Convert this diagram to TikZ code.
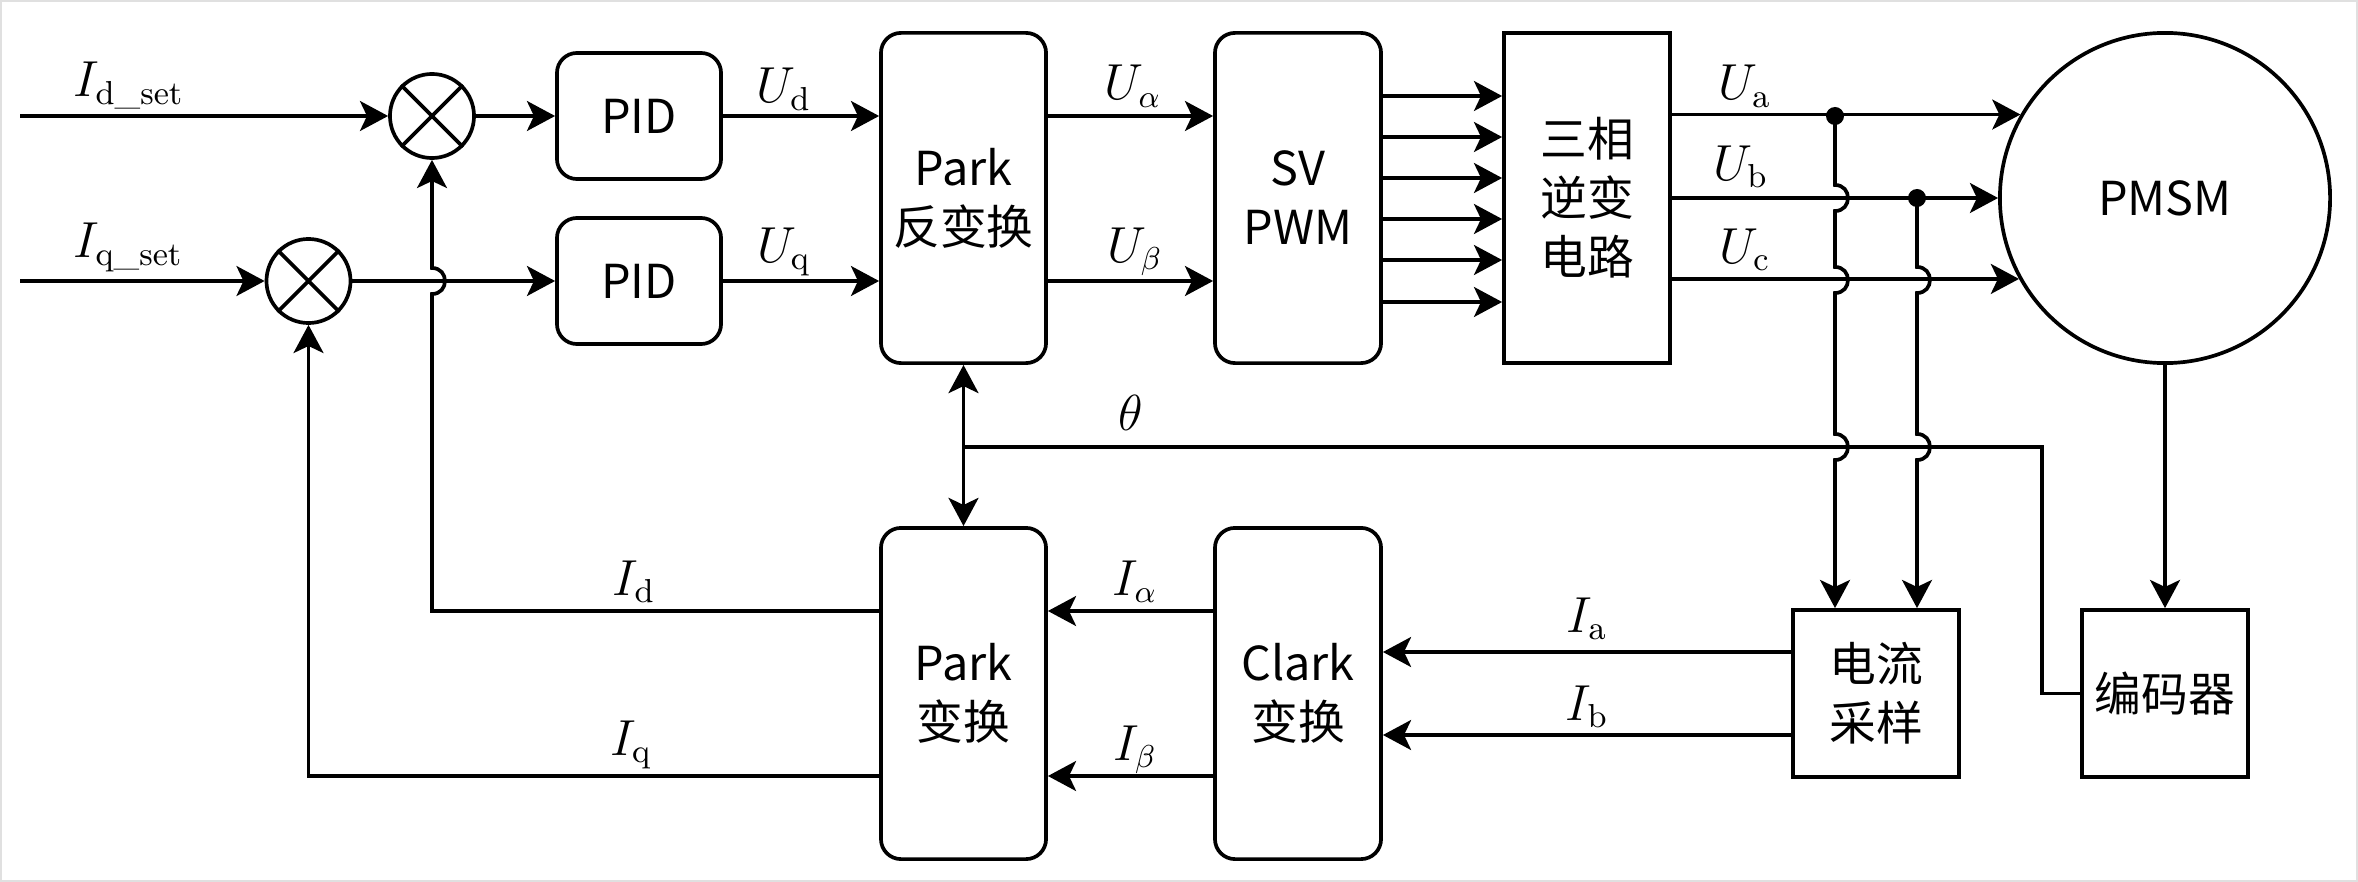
\documentclass[tikz,border=0pt]{standalone}
\usepackage{amsmath}
\usepackage{fontspec}
\newfontfamily\cjk{Noto Sans CJK SC}
\usetikzlibrary{arrows.meta,calc}
\newcommand\hopdown[2]{-- (#1,#2-13) .. controls (#1+17.3,#2-13) and (#1+17.3,#2+13) .. (#1,#2+13)}
\newcommand\hopup[2]{-- (#1,#2+13) .. controls (#1+17.3,#2+13) and (#1+17.3,#2-13) .. (#1,#2-13)}
\begin{document}
\begin{tikzpicture}[x=0.01cm,y=-0.01cm,line width=1.05pt,
  >={Stealth[length=8pt,width=8.5pt,inset=2pt]},
  every node/.style={font=\fontsize{13.5pt}{16.5pt}\selectfont},
  boxtext/.style={align=center,inner sep=0pt,font=\cjk\fontsize{13.3pt}{16.8pt}\selectfont},
  rbox/.style={draw,rounded corners=0.2cm,boxtext},
  sbox/.style={draw,boxtext},
  sumj/.style={draw,circle,minimum size=0.84cm,inner sep=0pt},
  jdot/.style={circle,fill,inner sep=0pt,minimum size=0.18cm},
  lbl/.style={inner sep=0pt,anchor=base}]
\useasboundingbox (0,0) rectangle (2358,882);
\draw[black!12,line width=0.6pt] (1,1) rectangle (2357,881);
% rows
\coordinate (r1) at (0,116);
\coordinate (r2) at (0,281);
\coordinate (rb) at (0,198);
\coordinate (rth) at (0,447);
\coordinate (rl1) at (0,611);
\coordinate (rl2) at (0,776);
\coordinate (ria) at (0,652);
\coordinate (rib) at (0,735);
\coordinate (xt) at (2042,0);
% nodes
\node[sumj] (s1) at (432,116) {};
\node[sumj] (s2) at (308.5,281) {};
\draw (s1.45) -- (s1.225) (s1.135) -- (s1.315);
\draw (s2.45) -- (s2.225) (s2.135) -- (s2.315);
\node[rbox,minimum width=1.64cm,minimum height=1.26cm] (pid1) at (639,116) {PID};
\node[rbox,minimum width=1.64cm,minimum height=1.26cm] (pid2) at (639,281) {PID};
\node[rbox,minimum width=1.65cm,minimum height=3.30cm] (ipark) at (963.5,198) {Park\\反变换};
\node[rbox,minimum width=1.66cm,minimum height=3.30cm] (svpwm) at (1298,198) {SV\\PWM};
\node[sbox,minimum width=1.66cm,minimum height=3.30cm] (inv) at (1587,198) {三相\\逆变\\电路};
\node[draw,circle,minimum size=3.3cm,inner sep=0pt,boxtext] (pmsm) at (2165,198) {PMSM};
\node[rbox,minimum width=1.65cm,minimum height=3.31cm] (park) at (963.5,693.5) {Park\\变换};
\node[rbox,minimum width=1.66cm,minimum height=3.31cm] (clark) at (1298,693.5) {Clark\\变换};
\node[sbox,minimum width=1.66cm,minimum height=1.67cm] (cur) at (1876,693.5) {电流\\采样};
\node[sbox,minimum width=1.66cm,minimum height=1.67cm] (enc) at (2165,693.5) {编码器};
% inputs
\coordinate (inA) at (20,116);
\coordinate (inB) at (20,281);
\draw[->] (inA) -- (s1.west);
\draw[->] (inB) -- (s2.west);
\node[lbl,anchor=base west] (lid) at (72,97) {$I_{\mathrm{d}\text{\_}\mathrm{set}}$};
\node[lbl,anchor=base west] (liq) at (72,258) {$I_{\mathrm{q}\text{\_}\mathrm{set}}$};
\draw[->] (s1.east) -- (pid1.west);
\draw[->] (s2.east) -- (pid2.west);
\draw[->] (pid1.east) -- (ipark.west |- r1);
\draw[->] (pid2.east) -- (ipark.west |- r2);
\node[lbl] (lud) at (784,103) {$U_{\mathrm{d}}$};
\node[lbl] (luq) at (784,262) {$U_{\mathrm{q}}$};
\draw[->] (ipark.east |- r1) -- (svpwm.west |- r1);
\draw[->] (ipark.east |- r2) -- (svpwm.west |- r2);
\node[lbl] (lua) at (1133,100) {$U_{\alpha}$};
\node[lbl] (lub) at (1135,262) {$U_{\beta}$};
\foreach \yy in {96,137,178,219,260,302}
  \draw[->] (svpwm.east |- 0,\yy) -- (inv.west |- 0,\yy);
% three-phase outputs
\draw[->] (inv.east |- pmsm.150.2) -- (pmsm.150.2);
\draw[->] (inv.east |- rb) -- (pmsm.west);
\draw[->] (inv.east |- pmsm.209.8) -- (pmsm.209.8);
\node[lbl] (lUa) at (1745,100) {$U_{\mathrm{a}}$};
\node[lbl] (lUb) at (1741,180) {$U_{\mathrm{b}}$};
\node[lbl] (lUc) at (1745,263) {$U_{\mathrm{c}}$};
\node[jdot] (da) at (1835,116) {};
\node[jdot] (db) at (1917,198) {};
\draw[->] (da.center) \hopdown{1835}{198} \hopdown{1835}{280} \hopdown{1835}{447} -- (da |- cur.north);
\draw[->] (db.center) \hopdown{1917}{280} \hopdown{1917}{447} -- (db |- cur.north);
% encoder and theta
\draw[->] (pmsm.south) -- (enc.north);
\draw (enc.west) -| (xt |- rth) -- (ipark.south |- rth);
\draw[<->] (ipark.south) -- (park.north);
\node[lbl] (lth) at (1131,430) {$\theta$};
% currents
\draw[->] (cur.west |- ria) -- (clark.east |- ria);
\draw[->] (cur.west |- rib) -- (clark.east |- rib);
\node[lbl] (lia) at (1587,632) {$I_{\mathrm{a}}$};
\node[lbl] (lib) at (1587,720) {$I_{\mathrm{b}}$};
\draw[->] (clark.west |- rl1) -- (park.east |- rl1);
\draw[->] (clark.west |- rl2) -- (park.east |- rl2);
\node[lbl] (lial) at (1135,595) {$I_{\alpha}$};
\node[lbl] (libe) at (1135,760) {$I_{\beta}$};
% feedback
\draw[->] (park.west |- rl1) -- (432,611) \hopup{432}{281} -- (s1.south);
\draw[->] (park.west |- rl2) -- (308.5,776) -- (s2.south);
\node[lbl] (lidd) at (634,595) {$I_{\mathrm{d}}$};
\node[lbl] (liqq) at (631,755) {$I_{\mathrm{q}}$};
\end{tikzpicture}
\end{document}
